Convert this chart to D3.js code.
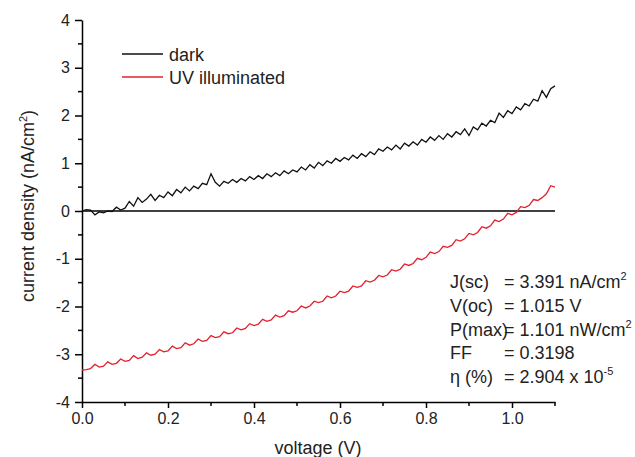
<!DOCTYPE html>
<html>
<head>
<meta charset="utf-8">
<script src="https://cdn.jsdelivr.net/npm/d3@7"></script>
<style>
  body { margin: 0; background: #fff; }
  svg { font-family: "Liberation Sans", Arial, sans-serif; }
</style>
</head>
<body>
<div id="chart"></div>
<script>
// measured sweep, 0.00 .. 1.10 V in 10 mV steps
var voltage = d3.range(111).map(function(i) { return i * 0.01; });

var dark = [
  0.00, 0.03, 0.02, -0.08, -0.02, -0.04, 0.00, -0.01, 0.08, 0.02,
  0.06, 0.20, 0.10, 0.28, 0.18, 0.25, 0.35, 0.22, 0.33, 0.28,
  0.40, 0.32, 0.45, 0.38, 0.50, 0.42, 0.52, 0.47, 0.58, 0.55,
  0.78, 0.60, 0.52, 0.62, 0.58, 0.66, 0.60, 0.68, 0.63, 0.72,
  0.66, 0.74, 0.68, 0.78, 0.72, 0.80, 0.74, 0.84, 0.78, 0.86,
  0.82, 0.92, 0.86, 0.97, 0.90, 1.02, 0.95, 1.05, 1.00, 1.10,
  1.04, 1.12, 1.07, 1.17, 1.10, 1.20, 1.14, 1.24, 1.18, 1.30,
  1.25, 1.34, 1.28, 1.38, 1.30, 1.42, 1.36, 1.45, 1.38, 1.50,
  1.44, 1.55, 1.48, 1.58, 1.50, 1.62, 1.55, 1.66, 1.60, 1.72,
  1.58, 1.76, 1.70, 1.84, 1.78, 1.90, 1.85, 2.05, 1.96, 2.10,
  2.04, 2.18, 2.12, 2.25, 2.20, 2.34, 2.30, 2.52, 2.38, 2.56,
  2.62
];

var uv = [
  -3.33, -3.32, -3.30, -3.21, -3.27, -3.25, -3.16, -3.21, -3.19, -3.10,
  -3.15, -3.13, -3.03, -3.09, -3.06, -2.97, -3.02, -3.00, -2.90, -2.95,
  -2.93, -2.83, -2.88, -2.86, -2.76, -2.81, -2.78, -2.68, -2.73, -2.71,
  -2.61, -2.65, -2.63, -2.53, -2.57, -2.55, -2.45, -2.49, -2.46, -2.36,
  -2.40, -2.37, -2.27, -2.31, -2.28, -2.18, -2.22, -2.19, -2.09, -2.12,
  -2.09, -1.99, -2.03, -1.99, -1.89, -1.92, -1.89, -1.78, -1.82, -1.78,
  -1.68, -1.71, -1.68, -1.57, -1.60, -1.57, -1.46, -1.49, -1.45, -1.35,
  -1.38, -1.34, -1.23, -1.26, -1.22, -1.11, -1.14, -1.10, -0.99, -1.02,
  -0.97, -0.86, -0.89, -0.85, -0.74, -0.76, -0.72, -0.60, -0.63, -0.58,
  -0.47, -0.50, -0.45, -0.33, -0.36, -0.31, -0.19, -0.22, -0.17, -0.05,
  -0.08, -0.03, 0.09, 0.07, 0.12, 0.24, 0.22, 0.28, 0.36, 0.53,
  0.50
];

var x_ticks = [0.0, 0.2, 0.4, 0.6, 0.8, 1.0];
var x_minor = [0.1, 0.3, 0.5, 0.7, 0.9, 1.1];
var y_ticks = [-4, -3, -2, -1, 0, 1, 2, 3, 4];
var y_minor = [-3.5, -2.5, -1.5, -0.5, 0.5, 1.5, 2.5, 3.5];

var legend_names = ['dark', 'UV illuminated'];
var legend_colors = ['#111111', '#e3202c'];

var param_names = ['J(sc)', 'V(oc)', 'P(max)', 'FF', '\u03b7 (%)'];
var param_values = ['= 3.391 nA/cm', '= 1.015 V', '= 1.101 nW/cm', '= 0.3198', '= 2.904 x 10'];
var param_sups = ['2', '', '2', '', '-5'];

var width = 635, height = 457;

var x = d3.scaleLinear().domain([0, 1.1]).range([82, 555]);
var y = d3.scaleLinear().domain([-4, 4]).range([402, 20]);

var svg = d3.select('#chart').append('svg')
    .attr('width', width)
    .attr('height', height);

// axes (plain hyphen for negatives, as in the original)
var yAxis = svg.append('g')
    .attr('transform', 'translate(' + x(0) + ',0)')
    .call(d3.axisLeft(y).tickValues(y_ticks).tickSize(7).tickSizeOuter(0)
	  .tickFormat(function(d) { return String(d); }));

var xAxis = svg.append('g')
    .attr('transform', 'translate(0,' + y(-4) + ')')
    .call(d3.axisBottom(x).tickValues(x_ticks).tickSize(6).tickSizeOuter(0)
	  .tickFormat(function(d) { return d.toFixed(1); }));

// minor ticks
yAxis.selectAll('.minor').data(y_minor).enter().append('line')
    .attr('class', 'minor')
    .attr('x1', -4).attr('x2', 0)
    .attr('y1', function(d) { return y(d); })
    .attr('y2', function(d) { return y(d); });

xAxis.selectAll('.minor').data(x_minor).enter().append('line')
    .attr('class', 'minor')
    .attr('x1', function(d) { return x(d); })
    .attr('x2', function(d) { return x(d); })
    .attr('y1', 0).attr('y2', 4);

svg.selectAll('.domain, .tick line, .minor')
    .attr('stroke', '#000')
    .attr('stroke-width', 1.5);

svg.selectAll('.tick text')
    .attr('font-size', 16)
    .attr('fill', '#222');

yAxis.selectAll('.tick text').attr('x', -12);
xAxis.selectAll('.tick text').attr('y', 11);

// zero line
svg.append('line')
    .attr('x1', x(0)).attr('x2', x(1.1))
    .attr('y1', y(0)).attr('y2', y(0))
    .attr('stroke', '#000')
    .attr('stroke-width', 1.5);

// curves
var line = d3.line()
    .x(function(d) { return x(d[0]); })
    .y(function(d) { return y(d[1]); });

svg.append('path')
    .datum(d3.zip(voltage, dark))
    .attr('fill', 'none')
    .attr('stroke', legend_colors[0])
    .attr('stroke-width', 1.3)
    .attr('d', line);

svg.append('path')
    .datum(d3.zip(voltage, uv))
    .attr('fill', 'none')
    .attr('stroke', legend_colors[1])
    .attr('stroke-width', 1.3)
    .attr('d', line);

// axis titles
var ylab = svg.append('text')
    .attr('transform', 'translate(34,206) rotate(-90)')
    .attr('text-anchor', 'middle')
    .attr('font-size', 18)
    .attr('fill', '#222');
ylab.append('tspan').text('current density (nA/cm');
ylab.append('tspan').attr('dy', -7).attr('font-size', 11).text('2');
ylab.append('tspan').attr('dy', 7).text(')');

svg.append('text')
    .attr('x', 318)
    .attr('y', 454)
    .attr('text-anchor', 'middle')
    .attr('font-size', 18)
    .attr('fill', '#222')
    .text('voltage (V)');

// legend
var legend = svg.selectAll('.legend').data(legend_names).enter().append('g')
    .attr('class', 'legend')
    .attr('transform', function(d, i) { return 'translate(122,' + (54 + i * 23) + ')'; });

legend.append('line')
    .attr('x1', 0).attr('x2', 41)
    .attr('stroke', function(d, i) { return legend_colors[i]; })
    .attr('stroke-width', 1.3);

legend.append('text')
    .attr('x', 47)
    .attr('y', 6.5)
    .attr('font-size', 18)
    .attr('fill', '#222')
    .text(function(d) { return d; });

// cell parameters
var params = svg.selectAll('.param').data(param_names).enter().append('g')
    .attr('class', 'param')
    .attr('transform', function(d, i) { return 'translate(0,' + (288 + i * 23.8) + ')'; });

params.append('text')
    .attr('x', 450)
    .attr('font-size', 18)
    .attr('fill', '#222')
    .text(function(d) { return d; });

var vals = params.append('text')
    .attr('x', 504)
    .attr('font-size', 18)
    .attr('fill', '#222')
    .text(function(d, i) { return param_values[i]; });

vals.append('tspan')
    .attr('dy', -8)
    .attr('font-size', 11)
    .text(function(d, i) { return param_sups[i]; });
</script>
</body>
</html>
